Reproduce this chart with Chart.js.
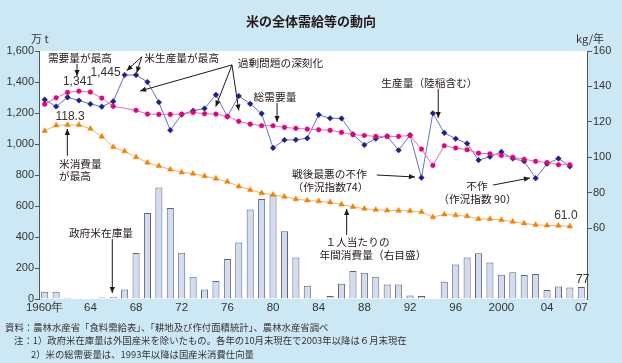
<!DOCTYPE html>
<html><head><meta charset="utf-8">
<script src="https://cdn.jsdelivr.net/npm/chart.js@4.4.1/dist/chart.umd.min.js"></script>
<style>
html,body{margin:0;padding:0;background:#CDE8F5;}
#wrap{position:relative;width:622px;height:363px;overflow:hidden;background:#CDE8F5;font-family:"Noto Sans CJK JP",sans-serif;}
#c{position:absolute;left:0;top:0;}
.t{position:absolute;white-space:nowrap;color:#231815;line-height:1;}
#title{left:0;width:622px;text-align:center;top:14px;font-size:13px;font-weight:bold;}
#u1{left:31px;top:33px;font-size:11px;color:#333;}
#u2{left:576px;top:33px;font-size:11px;color:#333;}
.fn{font-size:9.4px;color:#333;}
</style></head>
<body>
<div id="wrap">
<canvas id="c" width="622" height="363"></canvas>
<div class="t" id="title">米の全体需給等の動向</div>
<div class="t" id="u1">万 t</div>
<div class="t" id="u2">kg/年</div>
<div class="t fn" style="left:5px;top:323px;">資料：農林水産省「食料需給表」、「耕地及び作付面積統計」、農林水産省調べ</div>
<div class="t fn" style="left:14px;top:336px;">注：1）政府米在庫量は外国産米を除いたもの。各年の10月末現在で2003年以降は６月末現在</div>
<div class="t fn" style="left:31px;top:350px;">2）米の総需要量は、1993年以降は国産米消費仕向量</div>
</div>
<script>
const years = ['1960','1961','1962','1963','1964','1965','1966','1967','1968','1969',
 '1970','1971','1972','1973','1974','1975','1976','1977','1978','1979',
 '1980','1981','1982','1983','1984','1985','1986','1987','1988','1989',
 '1990','1991','1992','1993','1994','1995','1996','1997','1998','1999',
 '2000','2001','2002','2003','2004','2005','2006','2007'];
const xTickLabels = ['1960年','','','','64','','','','68','','','','72','','','','76','','','',
 '80','','','','84','','','','88','','','','92','','','','96','','','',
 '2000','','','','04','','','07'];
// 生産量（陸稲含む） 万t
const production = [1286,1242,1301,1281,1258,1241,1275,1445,1445,1400,
 1269,1089,1190,1215,1229,1317,1177,1310,1259,1196,
 975,1026,1027,1037,1188,1166,1165,1063,994,1035,
 1050,960,1057,783,1198,1072,1034,1003,896,918,
 949,906,889,779,873,906,855,null];
// 総需要量 万t
const demand = [1257,1298,1333,1341,1335,1296,1243,null,1217,1193,
 1191,1191,1193,1204,1195,1193,1178,1146,1128,1118,
 1118,1107,1101,1096,1092,1088,1075,1060,1055,1049,
 1049,1049,1055,967,862,989,974,963,941,937,
 926,915,902,888,881,866,866,null];
// 1人当たりの年間消費量 kg/年（右目盛）
const consumption = [114.9,118.0,118.3,118.3,116.1,111.7,105.8,103.4,100.1,97.0,
 95.1,93.1,91.5,90.8,89.4,88.0,86.2,83.6,81.6,79.8,
 78.9,77.8,76.4,75.7,75.2,74.6,73.4,72.0,71.0,70.4,
 70.0,69.9,69.7,69.2,66.2,67.8,67.3,66.7,65.2,65.2,
 64.6,63.6,62.7,61.9,61.5,61.4,61.0,null];
// 政府米在庫量 万t
const stock = [47,47,8,0,0,9,15,61,297,555,
 720,587,299,144,61,116,258,364,577,645,
 670,437,267,86,0,19,99,181,170,144,
 93,93,22,19,0,112,222,267,295,235,
 157,172,155,161,58,80,74,77];

const JP = '"Noto Sans CJK JP", sans-serif';
const LAT = '"Liberation Sans", Arial, sans-serif';

// annotation texts in data coordinates (category index, left-axis value)
const notes = [
 {t:'需要量が最高', i:3.09, v:1555},
 {t:'米生産量が最高', i:12.0, v:1555},
 {t:'過剰問題の深刻化', i:20.65, v:1523},
 {t:'総需要量', i:20.17, v:1303},
 {t:'生産量（陸稲含む）', i:33.7, v:1393},
 {t:'戦後最悪の不作', i:24.94, v:806},
 {t:'（作況指数74）', i:25.03, v:722},
 {t:'不作', i:37.86, v:729},
 {t:'（作況指数 90）', i:37.9, v:648},
 {t:'米消費量', i:1.25, v:871, a:'left'},
 {t:'が最高', i:1.25, v:794, a:'left'},
 {t:'政府米在庫量', i:4.93, v:428},
 {t:'１人当たりの', i:27.4, v:370},
 {t:'年間消費量（右目盛）', i:28.75, v:284}
];
const arrows = [
 [2.83,1516,2.83,1439],
 [8.5,1563,7.18,1473],
 [8.5,1563,8.06,1460],
 [16.4,1510,8.35,1342],
 [16.4,1510,14.98,1241],
 [16.4,1510,17.0,1216],
 [20.35,1264,20.35,1142],
 [34.47,1355,34.47,1168],
 [29.08,800,32.43,787],
 [39.27,735,42.5,781],
 [1.98,923,1.98,1097],
 [5.92,387,5.92,39],
 [26.45,413,26.45,581]
];

const plotBg = {
 id:'plotBg',
 beforeDraw(chart){
  const {ctx, chartArea:a} = chart;
  ctx.save(); ctx.fillStyle='#ffffff';
  ctx.fillRect(a.left, a.top, a.right-a.left, a.bottom-a.top);
  ctx.restore();
 }
};
function drawArrow(ctx,x1,y1,x2,y2){
 ctx.beginPath(); ctx.moveTo(x1,y1); ctx.lineTo(x2,y2); ctx.stroke();
 const ang=Math.atan2(y2-y1,x2-x1), L=6, W=2.6;
 ctx.beginPath();
 ctx.moveTo(x2,y2);
 ctx.lineTo(x2-L*Math.cos(ang)+W*Math.sin(ang), y2-L*Math.sin(ang)-W*Math.cos(ang));
 ctx.lineTo(x2-L*Math.cos(ang)-W*Math.sin(ang), y2-L*Math.sin(ang)+W*Math.cos(ang));
 ctx.closePath(); ctx.fill();
}
const notesPlugin = {
 id:'notes',
 afterDraw(chart){
  const ctx=chart.ctx, xs=chart.scales.x, ys=chart.scales.y, y2=chart.scales.y2;
  const X=i=>xs.getPixelForValue(i), Y=v=>ys.getPixelForValue(v);
  ctx.save();
  ctx.fillStyle='#231815'; ctx.strokeStyle='#231815'; ctx.lineWidth=1;
  ctx.textBaseline='middle';
  ctx.font='10.7px '+JP;
  notes.forEach(n=>{ ctx.textAlign=n.a||'center'; ctx.fillText(n.t, X(n.i), Y(n.v)); });
  arrows.forEach(a=>drawArrow(ctx,X(a[0]),Y(a[1]),X(a[2]),Y(a[3])));
  // value labels tied to data points
  ctx.font='12px '+LAT; ctx.fillStyle='#333'; ctx.textAlign='center';
  ctx.fillText('1,341', X(3)-1, Y(demand[3])-9);
  ctx.fillText('1,445', X(7)-19, Y(production[7])-2);
  ctx.fillText('118.3', X(2)+2.5, y2.getPixelForValue(consumption[2])-8);
  ctx.fillText('61.0', X(46)-4, y2.getPixelForValue(consumption[46])-11);
  ctx.fillText('77', X(47)+1.5, Y(stock[47])-7);
  ctx.restore();
 }
};

new Chart(document.getElementById('c'), {
 data:{
  labels: years,
  datasets:[
   {type:'line', label:'総需要量', data:demand, yAxisID:'y', order:1, spanGaps:true,
    borderColor:'#EF6AAA', borderWidth:1, pointStyle:'circle', pointRadius:2.3,
    pointBackgroundColor:'#E4007F', pointBorderColor:'#E4007F', pointBorderWidth:0.5},
   {type:'line', label:'生産量（陸稲含む）', data:production, yAxisID:'y', order:2,
    borderColor:'#6573C6', borderWidth:1, pointStyle:'rectRot', pointRadius:2.8,
    pointBackgroundColor:'#1D2088', pointBorderColor:'#1D2088', pointBorderWidth:0.5},
   {type:'line', label:'1人当たりの年間消費量', data:consumption, yAxisID:'y2', order:3,
    borderColor:'#F6AE6A', borderWidth:1, pointStyle:'triangle', pointRadius:3.2,
    pointBackgroundColor:'#F08300', pointBorderColor:'#F08300', pointBorderWidth:0.5},
   {type:'bar', label:'政府米在庫量', data:stock, yAxisID:'y', order:10,
    backgroundColor:'#D2DCF0', borderColor:'#5F6570', borderWidth:1, borderSkipped:'start',
    categoryPercentage:1, barPercentage:0.62}
  ]
 },
 options:{
  responsive:false, animation:false, devicePixelRatio:1,
  layout:{padding:{top:51,left:0,right:0,bottom:0}},
  plugins:{legend:{display:false}, tooltip:{enabled:false}},
  scales:{
   x:{type:'category', offset:true,
      grid:{display:false, drawTicks:false}, border:{display:false},
      ticks:{autoSkip:false, maxRotation:0, minRotation:0, padding:2, color:'#333',
             font:{family:LAT, size:11.5}, callback:(v,i)=>xTickLabels[i]},
      afterFit(s){ s.height=64; }},
   y:{type:'linear', position:'left', min:0, max:1600,
      ticks:{stepSize:200, padding:1, color:'#333', font:{family:LAT, size:11},
             callback:v=>v.toLocaleString('en-US')},
      grid:{drawOnChartArea:false, tickLength:4, color:'#555'},
      border:{color:'#555'},
      afterFit(s){ s.width=39; }},
   y2:{type:'linear', position:'right', min:20, max:160,
      ticks:{stepSize:20, padding:1, color:'#333', font:{family:LAT, size:11}},
      afterBuildTicks(s){ s.ticks = s.ticks.filter(t=>t.value>=60); },
      grid:{drawOnChartArea:false, tickLength:5, color:'#555'},
      border:{color:'#555'},
      afterFit(s){ s.width=35; }}
  }
 },
 plugins:[plotBg, notesPlugin]
});
</script>
</body></html>
